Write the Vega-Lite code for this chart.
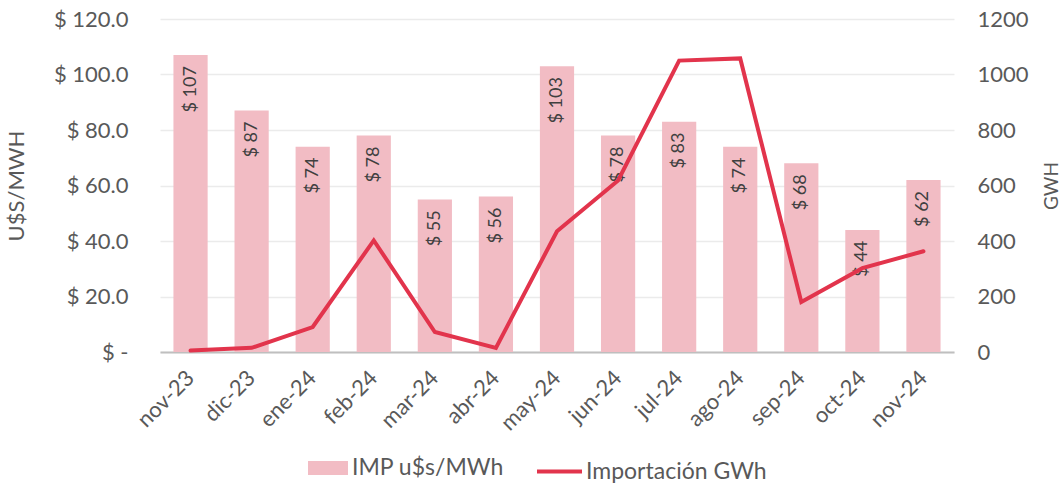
{
  "$schema": "https://vega.github.io/schema/vega-lite/v6.json",
  "width": 794,
  "height": 333,
  "autosize": {"type": "none"},
  "padding": {"left": 160, "top": 19, "right": 109, "bottom": 131},
  "background": "white",
  "config": {
    "font": "Lato",
    "view": {"stroke": null},
    "axis": {"labelFont": "Lato", "titleFont": "Lato", "labelColor": "#595959", "titleColor": "#595959", "titleFontWeight": "normal"},
    "legend": {"labelFont": "Lato", "labelColor": "#595959", "labelFontSize": 23, "labelLimit": 400}
  },
  "data": {
    "values": [
      {"mes": "nov-23", "precio": 107, "gwh": 5},
      {"mes": "dic-23", "precio": 87, "gwh": 15},
      {"mes": "ene-24", "precio": 74, "gwh": 90},
      {"mes": "feb-24", "precio": 78, "gwh": 402},
      {"mes": "mar-24", "precio": 55, "gwh": 72},
      {"mes": "abr-24", "precio": 56, "gwh": 15},
      {"mes": "may-24", "precio": 103, "gwh": 435},
      {"mes": "jun-24", "precio": 78, "gwh": 618},
      {"mes": "jul-24", "precio": 83, "gwh": 1050},
      {"mes": "ago-24", "precio": 74, "gwh": 1058},
      {"mes": "sep-24", "precio": 68, "gwh": 180},
      {"mes": "oct-24", "precio": 44, "gwh": 302},
      {"mes": "nov-24", "precio": 62, "gwh": 363}
    ]
  },
  "encoding": {
    "x": {
      "field": "mes", "type": "ordinal", "sort": null,
      "scale": {"paddingInner": 0.44, "paddingOuter": 0.22},
      "axis": {
        "title": null, "labelAngle": -45, "labelAlign": "right", "labelBaseline": "middle",
        "labelFontSize": 22, "labelPadding": 22, "ticks": false,
        "domainColor": "#bfbfbf", "domainWidth": 2, "grid": false
      }
    }
  },
  "layer": [
    {
      "encoding": {
        "y": {
          "field": "precio", "type": "quantitative",
          "scale": {"domain": [0, 120], "nice": false},
          "axis": {
            "title": "U$S/MWH", "titleFontSize": 22, "titlePadding": 25,
            "values": [0, 20, 40, 60, 80, 100, 120],
            "labelExpr": "datum.value == 0 ? '$ -' : '$ ' + format(datum.value, '.1f')",
            "labelFontSize": 22, "labelPadding": 32, "ticks": false, "domain": false,
            "grid": true, "gridColor": "#ebebeb", "gridWidth": 1.5
          }
        }
      },
      "layer": [
        {
          "mark": {"type": "bar"},
          "encoding": {
            "fill": {
              "datum": "IMP u$s/MWh",
              "scale": {"range": ["#f2bcc4"]},
              "legend": {
                "title": null, "orient": "none", "legendX": 148, "legendY": 429,
                "symbolType": "M-1,-0.35H1V0.35H-1Z", "symbolSize": 1600,
                "symbolStrokeWidth": 0, "labelOffset": 4
              }
            }
          }
        },
        {
          "transform": [{"calculate": "'$ ' + datum.precio", "as": "lbl"}],
          "mark": {"type": "text", "angle": -90, "align": "right", "baseline": "middle", "dx": -11, "fontSize": 18, "color": "#404040", "font": "Lato"},
          "encoding": {
            "text": {"field": "lbl", "type": "nominal"}
          }
        }
      ]
    },
    {
      "mark": {"type": "line", "strokeWidth": 4, "strokeJoin": "miter", "strokeCap": "round"},
      "encoding": {
        "y": {
          "field": "gwh", "type": "quantitative",
          "scale": {"domain": [0, 1200], "nice": false},
          "axis": {
            "orient": "right", "title": "GWH", "titleFontSize": 19, "titleAngle": -90, "titlePadding": 33,
            "values": [0, 200, 400, 600, 800, 1000, 1200], "format": "d",
            "labelFontSize": 22, "labelPadding": 23, "ticks": false, "domain": false, "grid": false
          }
        },
        "stroke": {
          "datum": "Importación GWh",
          "scale": {"range": ["#e2344c"]},
          "legend": {
            "title": null, "orient": "none", "legendX": 375, "legendY": 428,
            "symbolType": "stroke", "symbolSize": 2025, "symbolStrokeWidth": 4, "labelOffset": 2
          }
        }
      }
    }
  ],
  "resolve": {"scale": {"y": "independent"}}
}
